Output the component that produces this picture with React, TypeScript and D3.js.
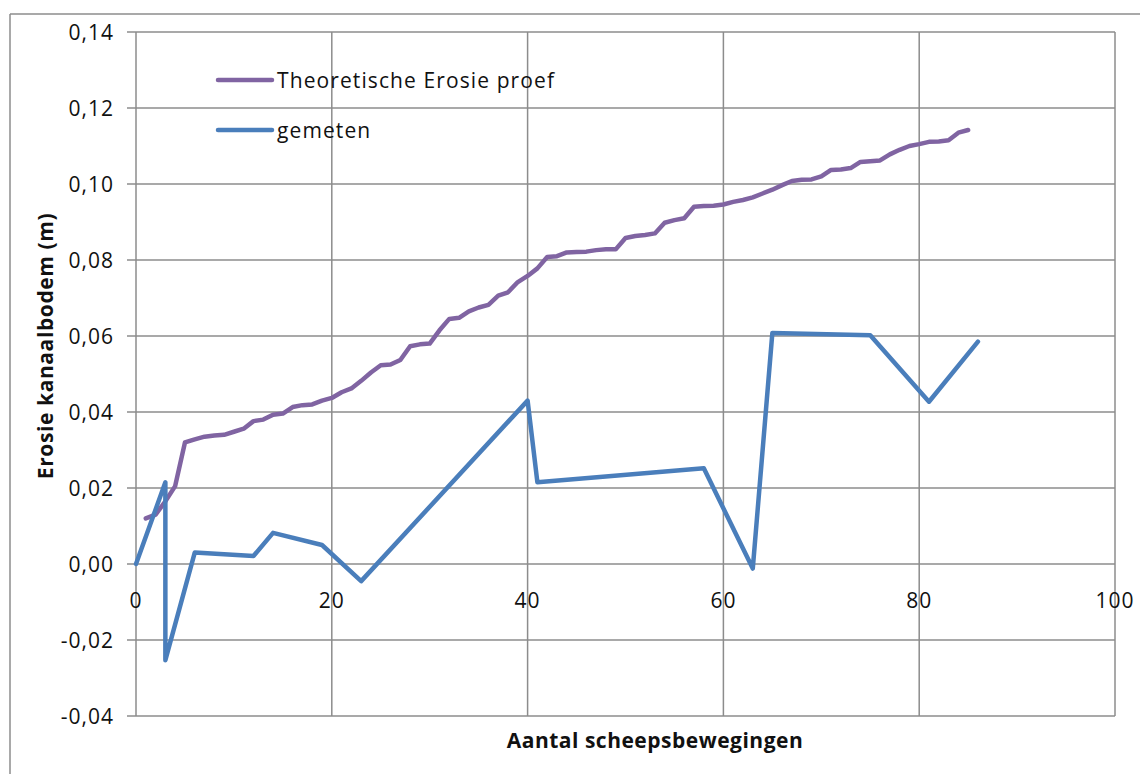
import React from "react";
import * as d3 from "d3";

// Theoretical erosion per ship movement (1..85)
const theoryX: number[] = d3.range(1, 86);
const theoryY: number[] = [
  0.012, 0.013, 0.0165, 0.0205, 0.032, 0.0328, 0.0335, 0.0338, 0.034, 0.0348,
  0.0356, 0.0376, 0.038, 0.0393, 0.0396, 0.0413, 0.0418, 0.042, 0.043, 0.0437,
  0.0452, 0.0462, 0.0482, 0.0504, 0.0523, 0.0525, 0.0537, 0.0573, 0.0578, 0.058,
  0.0615, 0.0645, 0.0648, 0.0665, 0.0675, 0.0682, 0.0706, 0.0715, 0.0742, 0.0758,
  0.0778, 0.0808, 0.081, 0.082, 0.0821, 0.0822, 0.0826, 0.0828, 0.0828, 0.0858,
  0.0863, 0.0866, 0.087, 0.0898, 0.0905, 0.091, 0.094, 0.0942, 0.0943, 0.0946,
  0.0953, 0.0958, 0.0965, 0.0975, 0.0985, 0.0997, 0.1008, 0.1011, 0.1012, 0.102,
  0.1037, 0.1038, 0.1042, 0.1058, 0.106, 0.1062, 0.1078, 0.109, 0.11, 0.1105,
  0.1111, 0.1112, 0.1115, 0.1135, 0.1142,
];

// Measured erosion
const measuredX: number[] = [0, 3, 3, 6, 12, 14, 19, 23, 40, 41, 58, 63, 65, 75, 81, 86];
const measuredY: number[] = [
  0, 0.0215, -0.0253, 0.003, 0.0021, 0.0082, 0.005, -0.0045, 0.043, 0.0215,
  0.0252, -0.0012, 0.0608, 0.0602, 0.0427, 0.0585,
];

const xTicks: number[] = [0, 20, 40, 60, 80, 100];
const yTicks: number[] = [-0.04, -0.02, 0, 0.02, 0.04, 0.06, 0.08, 0.1, 0.12, 0.14];

const seriesNames: string[] = ["Theoretische Erosie proef", "gemeten"];
const xTitle = "Aantal scheepsbewegingen";
const yTitle = "Erosie kanaalbodem (m)";

const W = 1140;
const H = 774;
const plot = { left: 136, right: 1115, top: 32, bottom: 716 };

const PURPLE = "#8064a2";
const BLUE = "#4a7ebb";
const GRID = "#8c8c8c";
const TEXT = "#111";
const FONT = "'Open Sans', 'Noto Sans', sans-serif";

const nl = d3.formatLocale({
  decimal: ",",
  thousands: ".",
  grouping: [3],
  currency: ["€", ""],
  minus: "-",
});
const fmtY = nl.format(".2f");

export default function App() {
  const x = d3.scaleLinear().domain([0, 100]).range([plot.left, plot.right]);
  const y = d3.scaleLinear().domain([-0.04, 0.14]).range([plot.bottom, plot.top]);

  const line = d3
    .line<[number, number]>()
    .x((d) => x(d[0]))
    .y((d) => y(d[1]));

  const theoryPts: [number, number][] = theoryX.map((v, i) => [v, theoryY[i]]);
  const measuredPts: [number, number][] = measuredX.map((v, i) => [v, measuredY[i]]);

  return (
    <div style={{ position: "absolute", left: 0, top: 0 }}>
      <svg width={W} height={H} style={{ display: "block", background: "#fff" }} fontFamily={FONT}>
        {/* chart border (left and top edges) */}
        <line x1={10} y1={14} x2={10} y2={H} stroke={GRID} strokeWidth={1.5} />
        <line x1={10} y1={14} x2={W} y2={14} stroke={GRID} strokeWidth={1.5} />

        {/* horizontal gridlines with left ticks */}
        {yTicks.map((t) => (
          <line
            key={"h" + t}
            x1={plot.left - 9}
            x2={plot.right}
            y1={y(t)}
            y2={y(t)}
            stroke={GRID}
            strokeWidth={1.5}
          />
        ))}
        {/* vertical gridlines */}
        {xTicks.map((t) => (
          <line
            key={"v" + t}
            x1={x(t)}
            x2={x(t)}
            y1={plot.top}
            y2={plot.bottom}
            stroke={GRID}
            strokeWidth={1.5}
          />
        ))}

        {/* y tick labels */}
        {yTicks.map((t) => (
          <text
            key={"yl" + t}
            x={114}
            y={y(t)}
            dy="0.36em"
            textAnchor="end"
            fontSize={21}
            letterSpacing={1}
            fill={TEXT}
          >
            {fmtY(t)}
          </text>
        ))}
        {/* x tick labels */}
        {xTicks.map((t) => (
          <text
            key={"xl" + t}
            x={x(t)}
            y={y(0) + 44}
            textAnchor="middle"
            fontSize={21}
            letterSpacing={1}
            fill={TEXT}
          >
            {t}
          </text>
        ))}

        {/* series */}
        <path
          d={line(theoryPts) || ""}
          fill="none"
          stroke={PURPLE}
          strokeWidth={4.5}
          strokeLinejoin="round"
          strokeLinecap="round"
        />
        <path
          d={line(measuredPts) || ""}
          fill="none"
          stroke={BLUE}
          strokeWidth={4.5}
          strokeLinejoin="round"
          strokeLinecap="round"
        />

        {/* legend */}
        <line x1={218} x2={272} y1={80} y2={80} stroke={PURPLE} strokeWidth={4.5} strokeLinecap="round" />
        <text x={277} y={80} dy="0.36em" fontSize={21} letterSpacing={1.1} fill={TEXT}>
          {seriesNames[0]}
        </text>
        <line x1={218} x2={272} y1={130} y2={130} stroke={BLUE} strokeWidth={4.5} strokeLinecap="round" />
        <text x={277} y={130} dy="0.36em" fontSize={21} letterSpacing={1.1} fill={TEXT}>
          {seriesNames[1]}
        </text>

        {/* axis titles */}
        <text
          x={655}
          y={740}
          dy="0.36em"
          textAnchor="middle"
          fontSize={21}
          fontWeight="bold"
          letterSpacing={0.5}
          fill={TEXT}
        >
          {xTitle}
        </text>
        <text
          transform={`translate(45, 346) rotate(-90)`}
          dy="0.36em"
          textAnchor="middle"
          fontSize={21}
          fontWeight="bold"
          letterSpacing={0.6}
          fill={TEXT}
        >
          {yTitle}
        </text>
      </svg>
    </div>
  );
}
